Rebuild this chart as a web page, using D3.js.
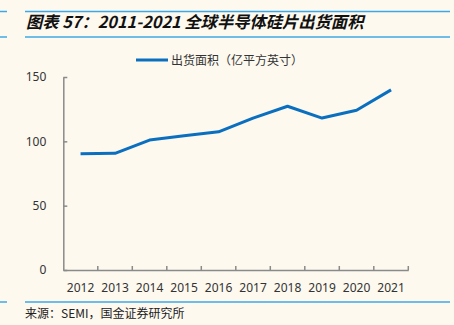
<!DOCTYPE html>
<html><head><meta charset="utf-8">
<script src="https://cdn.jsdelivr.net/npm/d3@7"></script>
<style>
html,body{margin:0;padding:0;background:#fdf9ef;}
svg{display:block;}
</style></head>
<body>
<script>
const years = ["2012","2013","2014","2015","2016","2017","2018","2019","2020","2021"];
const shipmentArea = [90.3, 90.7, 101.0, 104.3, 107.4, 118.1, 127.3, 118.1, 124.1, 140.0];
const yTicks = [0, 50, 100, 150];
const titleText = "图表 57：2011-2021 全球半导体硅片出货面积";
const legendText = "出货面积（亿平方英寸）";
const sourceText = "来源：SEMI，国金证券研究所";

const W = 454, H = 325;
const svg = d3.select("body").append("svg").attr("width", W).attr("height", H);
svg.append("rect").attr("width", W).attr("height", H).attr("fill", "#fdf9ef");

const ruleColor = "#3ca8e6";
[11.5, 37, 302].forEach(y => {
  svg.append("line").attr("x1", 0).attr("x2", 7).attr("y1", y).attr("y2", y)
    .attr("stroke", ruleColor).attr("stroke-width", 1.5);
  svg.append("line").attr("x1", 25).attr("x2", 450).attr("y1", y).attr("y2", y)
    .attr("stroke", ruleColor).attr("stroke-width", 1.5);
});

svg.append("text").attr("x", 26).attr("y", 28)
  .attr("font-family", "'Noto Sans CJK SC', sans-serif")
  .attr("font-size", 16.3).attr("font-weight", "bold").attr("font-style", "italic")
  .attr("fill", "#111").text(titleText);

svg.append("text").attr("x", 25).attr("y", 318)
  .attr("font-family", "'Noto Sans CJK SC', sans-serif")
  .attr("font-size", 12).attr("fill", "#222").text(sourceText);

const x = d3.scaleBand().domain(years).range([63.3, 408.3]).padding(0);
const y = d3.scaleLinear().domain([0, 150]).range([270, 77]);

const axisColor = "#8a8a8a";
const labelFont = "'Noto Sans', sans-serif";

// Y axis
const yAxis = svg.append("g").attr("transform", "translate(63.3,0)")
  .call(d3.axisLeft(y).tickValues(yTicks).tickSizeInner(-4).tickSizeOuter(0).tickPadding(17));
yAxis.select(".domain").attr("stroke", axisColor).attr("stroke-width", 1.5);
yAxis.selectAll(".tick line").attr("stroke", axisColor).attr("stroke-width", 1.5);
yAxis.selectAll(".tick text").attr("font-family", labelFont).attr("font-size", 12).attr("fill", "#333");

// X axis
const xAxis = svg.append("g").attr("transform", "translate(0,270)")
  .call(d3.axisBottom(x).tickSize(0).tickPadding(13));
xAxis.select(".domain").attr("stroke", axisColor).attr("stroke-width", 1.5);
xAxis.selectAll(".tick text").attr("font-family", labelFont).attr("font-size", 12).attr("fill", "#333");
xAxis.selectAll(".bnd").data(years).enter().append("line")
  .attr("x1", d => x(d) + x.bandwidth()).attr("x2", d => x(d) + x.bandwidth())
  .attr("y1", 0).attr("y2", -4).attr("stroke", axisColor).attr("stroke-width", 1.5);

// Line
const lineColor = "#0b6fc0";
const line = d3.line().x((d, i) => x(years[i]) + x.bandwidth() / 2).y(d => y(d));
svg.append("path").datum(shipmentArea).attr("d", line)
  .attr("fill", "none").attr("stroke", lineColor).attr("stroke-width", 3)
  .attr("stroke-linejoin", "round");

// Legend
svg.append("line").attr("x1", 136).attr("x2", 168).attr("y1", 60).attr("y2", 60)
  .attr("stroke", lineColor).attr("stroke-width", 3);
svg.append("text").attr("x", 171).attr("y", 64.5)
  .attr("font-family", "'Noto Sans CJK SC', sans-serif")
  .attr("font-size", 12).attr("fill", "#333").text(legendText);
</script>
</body></html>
